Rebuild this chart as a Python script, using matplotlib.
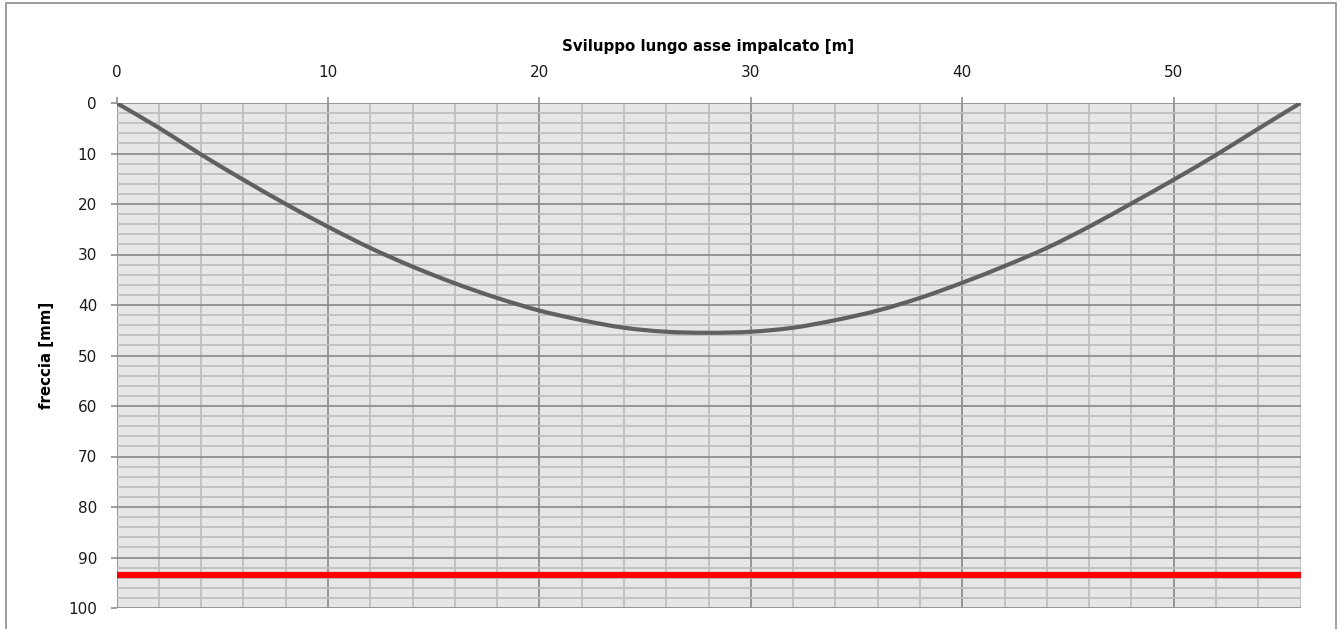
import matplotlib
matplotlib.use("Agg")
import matplotlib.pyplot as plt
from matplotlib.ticker import MultipleLocator
from matplotlib.patches import Rectangle, PathPatch
from matplotlib.path import Path
from matplotlib import font_manager

# ---- data ----
x_m = [0, 2, 4, 6, 8, 10, 12, 14, 16, 18, 20, 22, 24, 26, 28,
       30, 32, 34, 36, 38, 40, 42, 44, 46, 48, 50, 52, 54, 56]
freccia_mm = [0, 4.9, 10.2, 15.2, 20.0, 24.5, 28.7, 32.4, 35.7, 38.6, 41.1, 43.0, 44.5, 45.3, 45.5,
              45.3, 44.5, 43.0, 41.1, 38.6, 35.6, 32.3, 28.7, 24.5, 19.9, 15.2, 10.3, 5.1, 0]
limit_x = [0, 56]
limit_mm = [93.5, 93.5]
x_ticks = [0, 10, 20, 30, 40, 50]
y_ticks = [0, 10, 20, 30, 40, 50, 60, 70, 80, 90, 100]
x_title = "Sviluppo lungo asse impalcato [m]"
y_title = "freccia [mm]"

names = {f.name for f in font_manager.fontManager.ttflist}
title_font = "Liberation Sans Narrow" if "Liberation Sans Narrow" in names else "DejaVu Sans"


def smooth_path(xs, ys, tension=1 / 6):
    """Excel-like smoothed line: Catmull-Rom segments as cubic Beziers through the data points."""
    n = len(xs)
    verts = [(xs[0], ys[0])]
    codes = [Path.MOVETO]
    for i in range(n - 1):
        x0, y0 = (xs[i - 1], ys[i - 1]) if i > 0 else (xs[i], ys[i])
        x1, y1 = xs[i], ys[i]
        x2, y2 = xs[i + 1], ys[i + 1]
        x3, y3 = (xs[i + 2], ys[i + 2]) if i + 2 < n else (x2, y2)
        c1 = (x1 + (x2 - x0) * tension, y1 + (y2 - y0) * tension)
        c2 = (x2 - (x3 - x1) * tension, y2 - (y3 - y1) * tension)
        verts += [c1, c2, (x2, y2)]
        codes += [Path.CURVE4] * 3
    return Path(verts, codes)


W, H = 1342, 629
fig = plt.figure(figsize=(W / 100, H / 100), dpi=100)
fig.patch.set_facecolor("white")

# outer chart frame
fig.patches.append(Rectangle((6 / W, -0.1), (1336 - 6) / W, 1.1 - 2.5 / H,
                             transform=fig.transFigure, fill=False,
                             edgecolor="#8c8c8c", linewidth=1.2))

left, right, top, bottom = 116.5, 1300.5, 103, 608
ax = fig.add_axes([left / W, 1 - bottom / H, (right - left) / W, (bottom - top) / H])
ax.set_facecolor("#e6e6e6")

ax.set_xlim(0, 56)
ax.set_ylim(100, 0)
ax.xaxis.tick_top()
ax.xaxis.set_label_position("top")
ax.set_xticks(x_ticks)
ax.set_yticks(y_ticks)
ax.xaxis.set_minor_locator(MultipleLocator(2))
ax.yaxis.set_minor_locator(MultipleLocator(2))

ax.grid(which="minor", color="#bfbfbf", linewidth=1.3)
ax.grid(which="major", color="#8f8f8f", linewidth=1.3)
ax.set_axisbelow(True)
for s in ax.spines.values():
    s.set_visible(False)

ax.tick_params(which="major", direction="out", length=4.5, width=1.2, color="#8f8f8f",
               labelsize=11, labelcolor="#1a1a1a")
ax.tick_params(axis="x", which="major", pad=12)
ax.tick_params(axis="y", which="major", pad=9.5)
ax.tick_params(which="minor", length=0)
for lab in ax.get_xticklabels() + ax.get_yticklabels():
    lab.set_family("DejaVu Sans")

ax.add_patch(PathPatch(smooth_path(x_m, freccia_mm), facecolor="none", edgecolor="#606060",
                       linewidth=3.0, capstyle="round", joinstyle="round", zorder=3))
ax.plot(limit_x, limit_mm, color="#ff0000", linewidth=4.5, solid_capstyle="butt", zorder=3)

ax.set_xlabel(x_title, fontsize=10.8, fontweight="bold", family=title_font, labelpad=10)
ax.set_ylabel(y_title, fontsize=10.8, fontweight="bold", family=title_font, labelpad=10)

fig.savefig("out.png", dpi=100)
